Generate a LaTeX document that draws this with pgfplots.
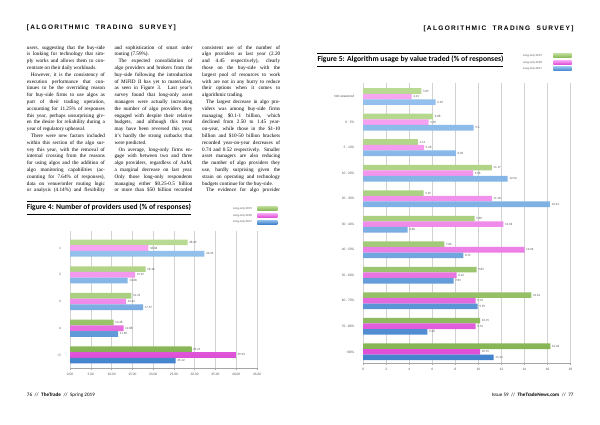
\documentclass[border=0pt]{standalone}
\usepackage{fontspec}
\usepackage{pgfplots}
\usepackage{pgfplotstable}
\pgfplotsset{compat=1.18}
\setmainfont{Liberation Serif}
\newfontfamily\chartfont{Carlito}
\newfontfamily\hdrfont{Liberation Sans}[LetterSpace=20]

\definecolor{gB}{HTML}{86B554}
\definecolor{gL}{HTML}{B9DA92}
\definecolor{pB}{HTML}{DD4FD6}
\definecolor{pL}{HTML}{F7A6F2}
\definecolor{bB}{HTML}{4383CC}
\definecolor{bL}{HTML}{93C0EC}
\definecolor{lbl}{HTML}{555555}

\newlength\cw \setlength\cw{78pt}
\newcommand\xJL[1]{\makebox[\cw][s]{#1}\\}
\newcommand\xEL[1]{\makebox[\cw][l]{#1}\\}
\newcommand\xIJ[1]{\makebox[\cw][s]{\hspace*{4pt}#1}\\}
\newcommand\xIE[1]{\makebox[\cw][l]{\hspace*{4pt}#1}\\}

\pgfplotstableread{
y g p b
4 28.29 18.86 32.35
3 18.18 15.67 13.88
2 14.76 13.43 17.57
1 10.48 12.88 11.58
0 29.21 39.92 25.42
}\figfour

\pgfplotstableread{
y g p b
10 5.05 4.21 6.29
9 6.08 5.69 9.60
8 4.74 5.28 8.05
7 11.17 9.56 12.56
6 5.25 11.18 16.23
5 9.69 12.18 3.86
4 7.06 14.02 8.71
3 9.85 8.12 7.85
2 14.61 9.76 9.95
1 10.15 9.76 5.58
0 16.26 10.15 11.34
}\figfive

\pgfplotsset{
  barchart/.style={
    scale only axis, anchor=south west,
    xbar, bar width=5.7pt,
    axis x line*=bottom, axis y line*=left,
    y axis line style={draw=none}, ytick style={draw=none},
    x axis line style={draw=gray!70, line width=0.5pt},
    xtick style={draw=gray!70, line width=0.4pt},
    tick align=outside, major tick length=1.6pt,
    xmajorgrids, grid style={draw=gray!35, line width=0.4pt},
    /pgf/number format/assume math mode=true,
    tick label style={font=\chartfont\fontsize{3.5}{4}\selectfont, text=lbl},
    yticklabel style={xshift=-4pt},
    nodes near coords,
    every node near coord/.append style={font=\chartfont\fontsize{3.2}{4}\selectfont, text=lbl, anchor=west, inner sep=1.5pt,
      /pgf/number format/fixed, /pgf/number format/precision=2},
    clip=false,
  },
  gbar/.style={draw=none, top color=gL, bottom color=gB, middle color=gL!70!gB, bar shift=5.7pt},
  pbar/.style={draw=none, top color=pL, bottom color=pB, middle color=pL!70!pB, bar shift=0pt},
  bbar/.style={draw=none, top color=bL, bottom color=bB, middle color=bL!70!bB, bar shift=-5.7pt},
}

\begin{document}
\begin{tikzpicture}
\useasboundingbox (0pt,0pt) rectangle (600pt,-424pt);
\fill[white] (0pt,0pt) rectangle (600pt,-424pt);

% headers
\node[anchor=west, inner sep=0] at (26.7pt,-28pt) {\resizebox{149pt}{!}{\hdrfont\bfseries [ALGORITHMIC\ \ TRADING\ \ SURVEY]}};
\node[anchor=west, inner sep=0] at (423.3pt,-28.5pt) {\resizebox{150pt}{!}{\hdrfont\bfseries [ALGORITHMIC\ \ TRADING\ \ SURVEY]}};

% body text
\node[anchor=north west, inner sep=0, align=left, font=\fontsize{5.2}{6.8}\selectfont] at (26.7pt,-45.2pt) {%
\xJL{users, suggesting that the buy-side}
\xJL{is looking for technology that sim-}
\xJL{ply works and allows them to con-}
\xEL{centrate on their daily workloads.}
\xIJ{However, it is the consistency of}
\xJL{execution performance that con-}
\xJL{tinues to be the overriding reason}
\xJL{for buy-side firms to use algos as}
\xJL{part of their trading operation,}
\xJL{accounting for 11.25\% of responses}
\xJL{this year, perhaps unsurprising giv-}
\xJL{en the desire for reliability during a}
\xEL{year of regulatory upheaval.}
\xIJ{There were new factors included}
\xJL{within this section of the algo sur-}
\xJL{vey this year, with the removal of}
\xJL{internal crossing from the reasons}
\xJL{for using algos and the addition of}
\xJL{algo monitoring capabilities (ac-}
\xJL{counting for 7.64\% of responses),}
\xJL{data on venue/order routing logic}
\xJL{or analysis (4.14\%) and flexibility}};

\node[anchor=north west, inner sep=0, align=left, font=\fontsize{5.2}{6.8}\selectfont] at (114.3pt,-45.2pt) {%
\xJL{and sophistication of smart order}
\xEL{routing (7.59\%).}
\xIJ{The expected consolidation of}
\xJL{algo providers and brokers from the}
\xJL{buy-side following the introduction}
\xJL{of MiFID II has yet to materialise,}
\xJL{as seen in Figure 3. Last year's}
\xJL{survey found that long-only asset}
\xJL{managers were actually increasing}
\xJL{the number of algo providers they}
\xJL{engaged with despite their relative}
\xJL{budgets, and although this trend}
\xJL{may have been reversed this year,}
\xJL{it's hardly the strong cutbacks that}
\xEL{were predicted.}
\xIJ{On average, long-only firms en-}
\xJL{gage with between two and three}
\xJL{algo providers, regardless of AuM,}
\xJL{a marginal decrease on last year.}
\xJL{Only those long-only respondents}
\xJL{managing either \$0.25-0.5 billion}
\xJL{or more than \$50 billion recorded}};

\node[anchor=north west, inner sep=0, align=left, font=\fontsize{5.2}{6.8}\selectfont] at (202pt,-45.2pt) {%
\xJL{consistent use of the number of}
\xJL{algo providers as last year (2.20}
\xJL{and 4.45 respectively), clearly}
\xJL{those on the buy-side with the}
\xJL{largest pool of resources to work}
\xJL{with are not in any hurry to reduce}
\xJL{their options when it comes to}
\xEL{algorithmic trading.}
\xIJ{The largest decrease in algo pro-}
\xJL{viders was among buy-side firms}
\xJL{managing \$0.1-1 billion, which}
\xJL{declined from 2.50 to 1.45 year-}
\xJL{on-year, while those in the \$1-10}
\xJL{billion and \$10-50 billion brackets}
\xJL{recorded year-on-year decreases of}
\xJL{0.74 and 0.52 respectively. Smaller}
\xJL{asset managers are also reducing}
\xJL{the number of algo providers they}
\xJL{use, hardly surprising given the}
\xJL{strain on operating and technology}
\xEL{budgets continue for the buy-side.}
\xIJ{The evidence for algo provider}};

% Figure 4 title and legend
\draw[line width=0.9pt] (26.7pt,-201pt) -- (191.3pt,-201pt);
\draw[line width=0.9pt] (26.7pt,-214pt) -- (191.3pt,-214pt);
\node[anchor=west, inner sep=0] at (26.7pt,-207.6pt) {\resizebox{164pt}{!}{\chartfont\bfseries Figure 4: Number of providers used (\% of responses)}};
\foreach \yy/\t/\c in {208.5/2019/g, 215.3/2018/p, 222/2017/b} {
  \node[anchor=east, inner sep=0, font=\chartfont\fontsize{3}{3.5}\selectfont, text=lbl] at (252pt,-\yy pt) {Long-only \t};
  \shade[top color=\c L, bottom color=\c B] (257.3pt,-\yy pt+2pt) rectangle (277.3pt,-\yy pt-2pt);
}

\begin{axis}[barchart,
  at={(70pt,-368pt)}, width=187pt, height=137pt,
  xmin=0, xmax=45, ymin=-0.49, ymax=4.64,
  xtick={0,5,...,45},
  xticklabel style={/pgf/number format/fixed, /pgf/number format/fixed zerofill, /pgf/number format/precision=2},
  ytick={0,1,2,3,4},
  yticklabels={>5,4,3,2,1},
]
\addplot[gbar] table[x=g, y=y] {\figfour};
\addplot[pbar] table[x=p, y=y] {\figfour};
\addplot[bbar] table[x=b, y=y] {\figfour};
\end{axis}

% Figure 5 title and legend
\draw[line width=0.9pt] (317.3pt,-53.3pt) -- (503.3pt,-53.3pt);
\draw[line width=0.9pt] (317.3pt,-66pt) -- (503.3pt,-66pt);
\node[anchor=west, inner sep=0] at (317.3pt,-59.6pt) {\resizebox{186pt}{!}{\chartfont\bfseries Figure 5: Algorithm usage by value traded (\% of responses)}};
\foreach \yy/\t/\c in {55.7/2019/g, 62.3/2018/p, 68.7/2017/b} {
  \node[anchor=east, inner sep=0, font=\chartfont\fontsize{3}{3.5}\selectfont, text=lbl] at (542pt,-\yy pt) {Long-only \t};
  \shade[top color=\c L, bottom color=\c B] (553.3pt,-\yy pt+2pt) rectangle (571.7pt,-\yy pt-2pt);
}

\begin{axis}[barchart,
  at={(363.3pt,-363.3pt)}, width=207pt, height=280pt,
  xmin=0, xmax=18, ymin=-0.45, ymax=10.52,
  bar width=5.6pt,
  xtick={0,2,...,18},
  ytick={0,1,2,3,4,5,6,7,8,9,10},
  yticklabels={>80\%,70 - 80\%,60 - 70\%,50 - 60\%,40 - 50\%,30 - 40\%,20 - 30\%,10 - 20\%,5 - 10\%,0 - 5\%,Not answered},
  gbar/.append style={bar shift=5.6pt}, bbar/.append style={bar shift=-5.6pt},
]
\addplot[gbar] table[x=g, y=y] {\figfive};
\addplot[pbar] table[x=p, y=y] {\figfive};
\addplot[bbar] table[x=b, y=y] {\figfive};
\end{axis}

% footers
\node[anchor=west, inner sep=0] at (26.7pt,-395.5pt) {\resizebox{68pt}{!}{\chartfont 76\enspace//\enspace\textbf{TheTrade}\enspace//\enspace Spring 2019}};
\node[anchor=west, inner sep=0] at (491.7pt,-395.3pt) {\resizebox{81.6pt}{!}{\chartfont Issue 59\enspace//\enspace\textbf{TheTradeNews.com}\enspace//\enspace 77}};
\end{tikzpicture}
\end{document}
